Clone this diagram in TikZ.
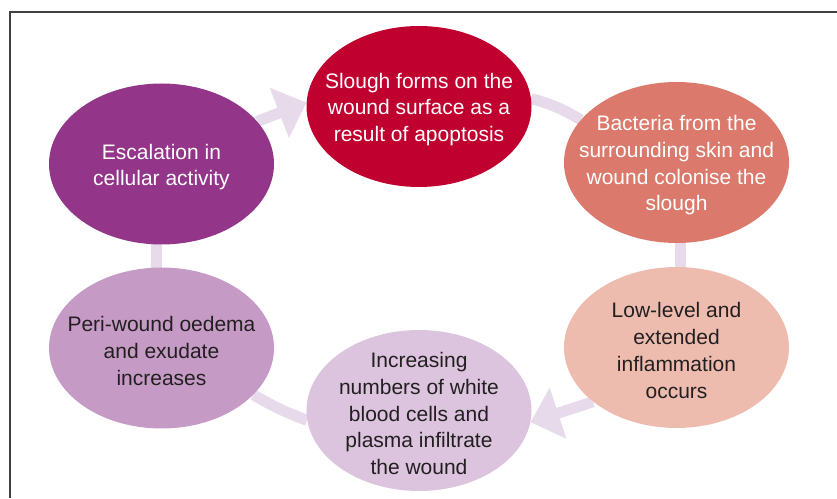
\documentclass[tikz,border=0pt]{standalone}
\usepackage{fontspec}
\setmainfont{Liberation Sans}
\usetikzlibrary{shapes.geometric,arrows.meta,backgrounds}

\definecolor{esccol}{RGB}{147,54,137}
\definecolor{sloughcol}{RGB}{192,0,46}
\definecolor{bactcol}{RGB}{218,121,108}
\definecolor{lowcol}{RGB}{237,188,175}
\definecolor{incrcol}{RGB}{220,196,223}
\definecolor{pericol}{RGB}{197,155,198}
\definecolor{linkcol}{RGB}{230,218,235}
\definecolor{inkcol}{RGB}{35,31,32}

\begin{document}
\begin{tikzpicture}[x=1pt,y=1pt,
  bubble/.style={ellipse,minimum width=225pt,minimum height=161pt,inner sep=0pt},
  words/.style={align=center,yshift=-3pt,font=\fontsize{21}{26.7}\selectfont},
  link/.style={line width=11pt,draw=linkcol},
  head/.style={-{Triangle[length=29pt,width=52pt]}}]
\useasboundingbox (0,0) rectangle (837,498);
\draw[line width=1.2pt,black!75] (837,486) -- (10,486) -- (10,0);

% the six stages
\node[bubble,fill=esccol] (esc) at (161.5,334) {};
\node[bubble,fill=sloughcol] (slough) at (419,391.5) {};
\node[bubble,fill=bactcol] (bact) at (676.5,335.5) {};
\node[bubble,fill=lowcol] (low) at (676.5,150.5) {};
\node[bubble,fill=incrcol] (incr) at (419,87.5) {};
\node[bubble,fill=pericol] (peri) at (161.5,150) {};

\node[words,text=white] (esc-t) at (esc) {Escalation in\\cellular activity};
\node[words,text=white] (slough-t) at (slough) {Slough forms on the\\wound surface as a\\result of apoptosis};
\node[words,text=white] (bact-t) at (bact) {Bacteria from the\\surrounding skin and\\wound colonise the\\slough};
\node[words,text=inkcol] (low-t) at (low) {Low-level and\\extended\\inflammation\\occurs};
\node[words,text=inkcol] (incr-t) at (incr) {Increasing\\numbers of white\\blood cells and\\plasma infiltrate\\the wound};
\node[words,text=inkcol] (peri-t) at (peri) {Peri-wound oedema\\and exudate\\increases};

% cycle
\begin{scope}[on background layer]
\draw[link,head] (esc.24) -- (slough.178);
\draw[link] (slough.4) to[bend left=8] (bact.156);
\draw[link] ([xshift=3.5pt]bact.center) -- ([xshift=3.5pt]low.center);
\draw[link,head] (low.213) -- (incr.354);
\draw[link] (incr.185) to[bend left=5] (peri.333);
\draw[link] ([xshift=-5pt]peri.center) -- ([xshift=-5pt]esc.center);
\end{scope}
\end{tikzpicture}
\end{document}
